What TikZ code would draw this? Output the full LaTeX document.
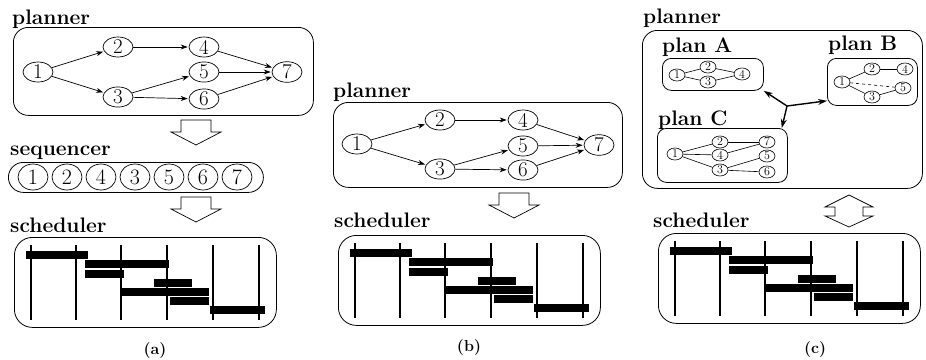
\documentclass[tikz,border=0pt]{standalone}
\usepackage{fontspec}
\usetikzlibrary{shapes.geometric,arrows.meta,positioning}

% one scheduler: frame, time slots and task bars
\newcommand{\schedule}[2]{%
  \node[frame, rounded corners=18pt, minimum width=262, minimum height=90] (#1) at #2 {};
  \begin{scope}[shift={#2}]
    \foreach \t in {17,62,107,153,199,245}
      \draw[slot] (\t,8) -- (\t,83);
    \foreach \a/\b/\r in {12/74/18,71/155/27,71/110/37,140/178/46,107/195/55,156/195/64,196/251/73}
      \fill (\a,\r-3.7) rectangle (\b,\r+3.7);
  \end{scope}}

\begin{document}
\begin{tikzpicture}[
   x=1pt, y=-1pt,
   lbl/.style={anchor=base west, inner sep=0pt, font=\bfseries\fontsize{21}{24}\selectfont},
   caption/.style={font=\bfseries\fontsize{16}{18}\selectfont},
   frame/.style={draw, anchor=north west, rounded corners=15pt, line width=0.8pt},
   task/.style={ellipse, draw, inner sep=0pt, minimum width=30, minimum height=20, line width=0.7pt, font=\fontsize{21}{22}\selectfont},
   seqtask/.style={task, minimum height=26, font=\fontsize{22}{24}\selectfont},
   tiny/.style={ellipse, draw, inner sep=0pt, minimum width=16, minimum height=12, line width=0.6pt, font=\fontsize{12}{13}\selectfont},
   flow/.style={-{Stealth[length=7pt,width=5pt]}, line width=0.7pt, shorten >=1pt},
   link/.style={line width=0.6pt},
   pick/.style={-{Stealth[length=9pt,width=6pt]}, line width=1.4pt},
   slot/.style={line width=1.2pt},
   pics/downblock/.style={code={
     \draw[line width=0.7pt, line join=miter] (-15,0) -- (15,0) -- (15,12) -- (25,12) -- (0,25) -- (-25,12) -- (-15,12) -- cycle;}},
   pics/updownblock/.style={code={
     \draw[line width=0.7pt, line join=miter] (0,-16) -- (24,-4) -- (14,-4) -- (14,5) -- (24,5) -- (0,16) -- (-24,5) -- (-14,5) -- (-14,-4) -- (-24,-4) -- cycle;}}
]
\path[fill=white, use as bounding box] (0,0) rectangle (926,359);

% (a) planner, sequencer, scheduler
\node[lbl] (plannerAlbl) at (12,24) {planner};
\node[frame, minimum width=300, minimum height=88] (plannerA) at (13,27) {};
\node[task] (a1) at (38,72) {1};
\node[task] (a2) at (118,47) {2};
\node[task] (a3) at (118,97) {3};
\node[task] (a4) at (204,47) {4};
\node[task] (a5) at (204,72) {5};
\node[task] (a6) at (204,99) {6};
\node[task] (a7) at (287,72) {7};
\draw[flow] (a1) -- (a2);
\draw[flow] (a1) -- (a3);
\draw[flow] (a2) -- (a4);
\draw[flow] (a3) -- (a5);
\draw[flow] (a3) -- (a6);
\draw[flow] (a4) -- (a7);
\draw[flow] (a5) -- (a7);
\draw[flow] (a6) -- (a7);
\pic (toseq) at (196,120) {downblock};

\node[lbl] (seqlbl) at (10,155) {sequencer};
\node[frame, minimum width=255, minimum height=30] (seq) at (8,162) {};
\node[seqtask] (s1) at (33,177) {1};
\node[seqtask] (s2) at (67,177) {2};
\node[seqtask] (s3) at (101,177) {4};
\node[seqtask] (s4) at (135,177) {3};
\node[seqtask] (s5) at (169,177) {5};
\node[seqtask] (s6) at (203,177) {6};
\node[seqtask] (s7) at (237,177) {7};
\pic (tosched) at (196,197) {downblock};

\node[lbl] (schedAlbl) at (10,232) {scheduler};
\schedule{schedA}{(14,237)}
\node[caption] (capA) at (155,351) {(a)};

% (b) planner straight to scheduler
\node[lbl] (plannerBlbl) at (333,97) {planner};
\node[frame, minimum width=289, minimum height=85] (plannerB) at (333,102) {};
\node[task] (b1) at (357,144) {1};
\node[task] (b2) at (440,120) {2};
\node[task] (b3) at (440,169) {3};
\node[task] (b4) at (523,120) {4};
\node[task] (b5) at (523,146) {5};
\node[task] (b6) at (523,170) {6};
\node[task] (b7) at (599,145) {7};
\draw[flow] (b1) -- (b2);
\draw[flow] (b1) -- (b3);
\draw[flow] (b2) -- (b4);
\draw[flow] (b3) -- (b5);
\draw[flow] (b3) -- (b6);
\draw[flow] (b4) -- (b7);
\draw[flow] (b5) -- (b7);
\draw[flow] (b6) -- (b7);
\pic (toschedB) at (514,193) {downblock};

\node[lbl] (schedBlbl) at (334,227) {scheduler};
\schedule{schedB}{(338,235)}
\node[caption] (capB) at (469,348) {(b)};

% (c) planner holding several plans
\node[lbl] (plannerClbl) at (643,23) {planner};
\node[frame, minimum width=280, minimum height=158] (plannerC) at (642,30) {};

\node[lbl] (planAlbl) at (662,52) {plan A};
\node[frame, rounded corners=9pt, minimum width=101, minimum height=32] (planA) at (662,58) {};
\node[tiny] (pa1) at (677,75) {1};
\node[tiny] (pa2) at (708,67) {2};
\node[tiny] (pa3) at (708,82) {3};
\node[tiny] (pa4) at (742,74) {4};
\draw[link] (pa1) -- (pa2);
\draw[link] (pa1) -- (pa3);
\draw[link] (pa2) -- (pa4);
\draw[link] (pa3) -- (pa4);

\node[lbl] (planBlbl) at (828,50) {plan B};
\node[frame, rounded corners=9pt, minimum width=90, minimum height=47] (planB) at (827,58) {};
\node[tiny] (pb1) at (842,82) {1};
\node[tiny] (pb2) at (872,69) {2};
\node[tiny] (pb3) at (872,97) {3};
\node[tiny] (pb4) at (905,69) {4};
\node[tiny] (pb5) at (903,88) {5};
\draw[link] (pb1) -- (pb2);
\draw[link] (pb2) -- (pb4);
\draw[link, dashed] (pb1) -- (pb5);
\draw[link] (pb1) -- (pb3);
\draw[link] (pb3) -- (pb5);

\node[lbl] (planClbl) at (658,125) {plan C};
\node[frame, rounded corners=9pt, minimum width=130, minimum height=54] (planC) at (657,128) {};
\node[tiny] (pc1) at (675,154) {1};
\node[tiny] (pc2) at (720,142) {2};
\node[tiny] (pc4) at (720,155) {4};
\node[tiny] (pc3) at (720,170) {3};
\node[tiny] (pc7) at (767,142) {7};
\node[tiny] (pc5) at (767,156) {5};
\node[tiny] (pc6) at (767,172) {6};
\draw[link] (pc1) -- (pc2);
\draw[link] (pc1) -- (pc4);
\draw[link] (pc1) -- (pc3);
\draw[link] (pc2) -- (pc7);
\draw[link] (pc4) -- (pc7);
\draw[link] (pc3) -- (pc5);
\draw[link] (pc3) -- (pc6);

% choosing one of the plans
\coordinate (hub) at (787,106);
\draw[pick] (hub) -- (planA.south east);
\draw[pick] (hub) -- ([yshift=5pt]planB.south west);
\draw[pick] (hub) -- ([xshift=-6pt]planC.north east);
\pic (swap) at (849,211) {updownblock};

\node[lbl] (schedClbl) at (653,227) {scheduler};
\schedule{schedC}{(658,233)}
\node[caption] (capC) at (815,350) {(c)};

\end{tikzpicture}
\end{document}
